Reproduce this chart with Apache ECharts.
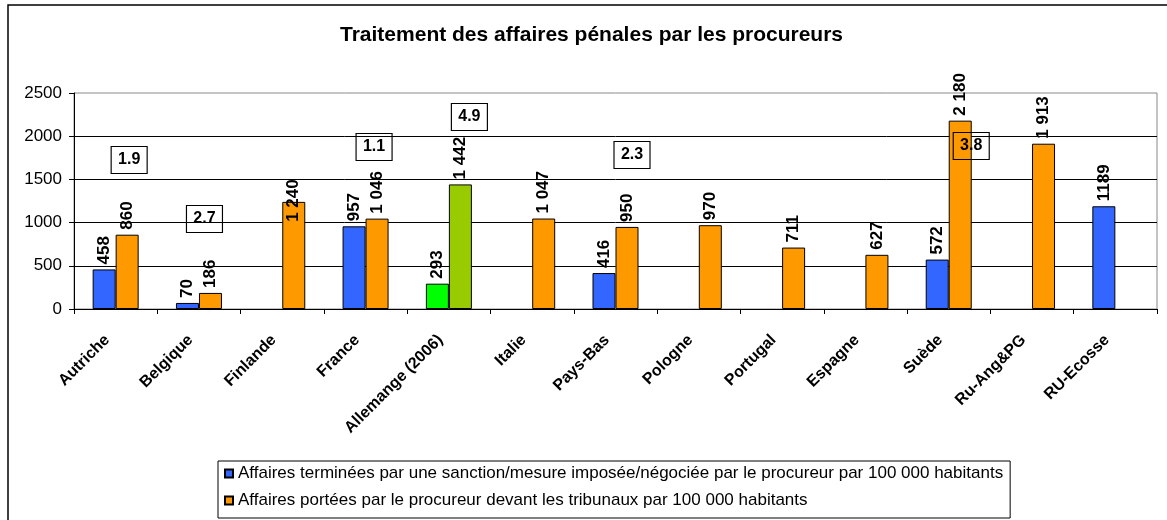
<!DOCTYPE html>
<html>
<head>
<meta charset="utf-8">
<script src="https://cdn.jsdelivr.net/npm/echarts@6/dist/echarts.min.js"></script>
<style>
  html, body { margin: 0; padding: 0; background: #fff; }
  #chart { width: 1167px; height: 520px; }
</style>
</head>
<body>
<div id="chart"></div>
<script>
const countries = ["Autriche", "Belgique", "Finlande", "France", "Allemange (2006)", "Italie",
  "Pays-Bas", "Pologne", "Portugal", "Espagne", "Suède", "Ru-Ang&PG", "RU-Ecosse"];

// affaires terminées par le procureur (sanction/mesure)
const terminees = [458, 70, null, 957, 293, null, 416, null, null, null, 572, null, 1189];
// affaires portées devant les tribunaux
const portees = [860, 186, 1240, 1046, 1442, 1047, 950, 970, 711, 627, 2180, 1913, null];

// ratios in the framed boxes
const ratios = ["1.9", "2.7", null, "1.1", "4.9", null, "2.3", null, null, null, "3.8", null, null];
const ratioY = [1725, 1042, null, 1875, 2222, null, 1782, null, null, null, 1886, null, null];
const ratioShift = [2, -6, 0, -3, 9, 0, 5, 0, 0, 0, 11, 0, 0];

const legendNames = [
  "Affaires terminées par une sanction/mesure imposée/négociée par le procureur par 100 000 habitants",
  "Affaires portées par le procureur devant les tribunaux par 100 000 habitants"
];

const blue = "#3366ff";
const orange = "#ff9900";
const FONT = "Liberation Sans, Arial, sans-serif";

const chart = echarts.init(document.getElementById("chart"));

function spaced(v) {
  return String(v).replace(/\B(?=(\d{3})+(?!\d))/g, " ");
}

const barLabel = {
  show: true,
  position: "top",
  rotate: 90,
  align: "left",
  verticalAlign: "middle",
  distance: 5,
  color: "#000",
  fontFamily: FONT,
  fontWeight: "bold",
  fontSize: 17
};

const termData = terminees.map((v, i) => {
  if (v == null) return null;
  if (i === 4) return { value: v, itemStyle: { color: "#00ff00" } };
  return v;
});

const porteData = portees.map((v, i) => {
  if (v == null) return null;
  if (i === 4) return { value: v, itemStyle: { color: "#99cc00" } };
  if (i === 2) return { value: v, label: { distance: -20 } };
  return v;
});

const boxes = [];
ratios.forEach((r, i) => {
  if (r == null) return;
  boxes.push({
    coord: [i, ratioY[i]],
    value: r,
    symbolOffset: [ratioShift[i], 0]
  });
});

const option = {
  animation: false,
  backgroundColor: "#fff",
  title: {
    text: "Traitement des affaires pénales par les procureurs",
    left: 340,
    top: 25,
    padding: 0,
    textStyle: { fontFamily: FONT, fontWeight: "bold", fontSize: 21, color: "#000" }
  },
  graphic: [{
    type: "rect",
    shape: { x: 8, y: 5, width: 1300, height: 700 },
    style: { fill: "none", stroke: "#000", lineWidth: 1.5 },
    silent: true
  }],
  legend: {
    orient: "vertical",
    left: 218,
    top: 461,
    padding: [4, 7, 9, 6],
    itemGap: 10,
    itemWidth: 8,
    itemHeight: 8,
    borderColor: "#000",
    borderWidth: 1,
    icon: "rect",
    data: legendNames,
    textStyle: { fontFamily: FONT, fontSize: 17, lineHeight: 17, color: "#000" }
  },
  grid: {
    left: 74,
    right: 10,
    top: 93,
    bottom: 211,
    show: true,
    borderColor: "#888",
    borderWidth: 1
  },
  xAxis: {
    type: "category",
    data: countries,
    axisLine: { lineStyle: { color: "#000", width: 1 } },
    axisTick: { show: true, length: 5, lineStyle: { color: "#000" } },
    axisLabel: {
      interval: 0,
      rotate: 45,
      margin: 20,
      padding: [0, 12, 0, 0],
      color: "#000",
      fontFamily: FONT,
      fontWeight: "bold",
      fontSize: 16
    }
  },
  yAxis: {
    type: "value",
    min: 0,
    max: 2500,
    interval: 500,
    axisLine: { show: true, lineStyle: { color: "#000", width: 1 } },
    axisTick: { show: true, length: 5, lineStyle: { color: "#000" } },
    axisLabel: {
      color: "#000",
      fontFamily: FONT,
      fontSize: 17,
      margin: 12,
      formatter: (v) => String(v)
    },
    splitLine: { showMaxLine: false, lineStyle: { color: "#000", width: 1 } }
  },
  series: [
    {
      name: legendNames[0],
      type: "bar",
      data: termData,
      barWidth: 23,
      barGap: "0%",
      itemStyle: { color: blue, borderColor: "#000", borderWidth: 1 },
      label: barLabel
    },
    {
      name: legendNames[1],
      type: "bar",
      data: porteData,
      barWidth: 23,
      barGap: "0%",
      itemStyle: { color: orange, borderColor: "#000", borderWidth: 1 },
      label: Object.assign({}, barLabel, { formatter: (p) => spaced(p.value) }),
      markPoint: {
        symbol: "rect",
        symbolSize: [36, 27],
        itemStyle: { color: "rgba(0,0,0,0)", borderColor: "#000", borderWidth: 1 },
        label: {
          show: true,
          position: "inside",
          color: "#000",
          fontFamily: FONT,
          fontWeight: "bold",
          fontSize: 16,
          formatter: (p) => p.value
        },
        data: boxes
      }
    }
  ]
};

chart.setOption(option);
</script>
</body>
</html>
